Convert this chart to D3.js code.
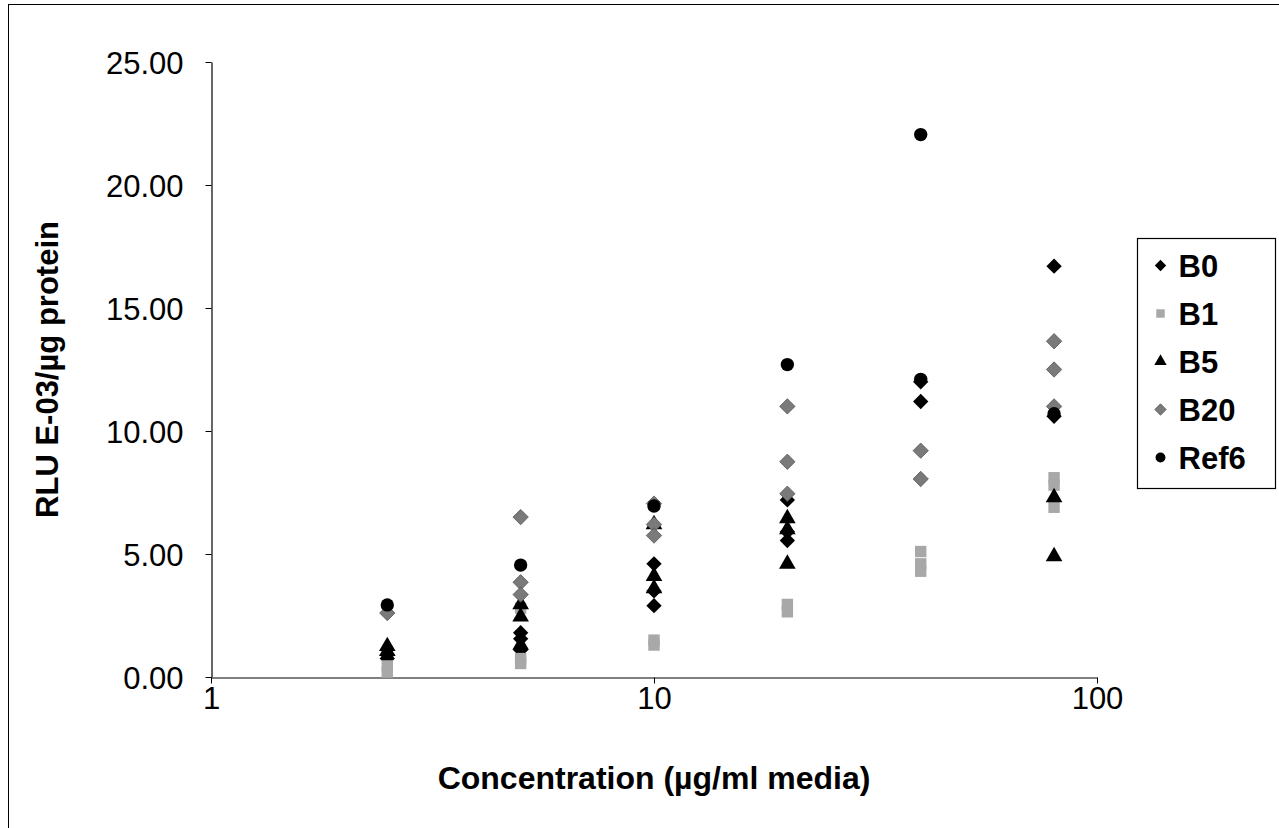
<!DOCTYPE html>
<html>
<head>
<meta charset="utf-8">
<script src="https://cdn.jsdelivr.net/npm/d3@7"></script>
<style>
  html, body { margin: 0; padding: 0; background: #fff; }
  svg { display: block; }
  text { font-family: "Liberation Sans", Arial, sans-serif; fill: #000; }
</style>
</head>
<body>
<svg id="chart" width="1279" height="828"></svg>
<script>
// ---------- data ----------
const seriesNames = ["B0", "B1", "B5", "B20", "Ref6"];
const yTickValues = [0, 5, 10, 15, 20, 25];
const xTickValues = [1, 10, 100];

// [concentration, RLU E-03/µg protein]
const b0Points = [
  [2.5, 0.9], [2.5, 0.75],
  [5, 1.8], [5, 1.55], [5, 1.1],
  [10, 4.6], [10, 3.5], [10, 2.9],
  [20, 7.2], [20, 5.9], [20, 5.55],
  [40, 12.0], [40, 11.2],
  [80, 16.7], [80, 10.6]
];
const b1Points = [
  [2.5, 0.45], [2.5, 0.2],
  [5, 2.8], [5, 0.75], [5, 0.55],
  [10, 1.5], [10, 1.3],
  [20, 2.95], [20, 2.65],
  [40, 5.1], [40, 4.6], [40, 4.3],
  [80, 8.1], [80, 7.8], [80, 6.9]
];
const b5Points = [
  [2.5, 1.25], [2.5, 1.05],
  [5, 2.95], [5, 2.45], [5, 1.3],
  [10, 6.2], [10, 4.1], [10, 3.6],
  [20, 6.45], [20, 6.0], [20, 4.6],
  [80, 7.3], [80, 4.9]
];
const b20Points = [
  [2.5, 2.6],
  [5, 6.5], [5, 3.85], [5, 3.35],
  [10, 7.05], [10, 6.2], [10, 5.75],
  [20, 11.0], [20, 8.75], [20, 7.45],
  [40, 9.2], [40, 8.05],
  [80, 13.65], [80, 12.5], [80, 11.0]
];
const ref6Points = [
  [2.5, 2.93],
  [5, 4.55],
  [10, 6.95],
  [20, 12.7],
  [40, 22.05], [40, 12.1],
  [80, 10.7]
];

const seriesData = [b0Points, b1Points, b5Points, b20Points, ref6Points];
const seriesSymbols = [d3.symbolDiamond2 || d3.symbolDiamond, d3.symbolSquare, d3.symbolTriangle, d3.symbolDiamond2 || d3.symbolDiamond, d3.symbolCircle];
const seriesColors = ["#000000", "#a8a8a8", "#000000", "#7a7a7a", "#000000"];
const seriesSizes = [150, 130, 120, 150, 140];

// ---------- layout ----------
const svg = d3.select("#chart");
const margin = { left: 211, right: 1097, top: 62, bottom: 677 };

const x = d3.scaleLog().domain([1, 100]).range([margin.left, margin.right]);
const y = d3.scaleLinear().domain([0, 25]).range([margin.bottom, margin.top]);

// outer chart border (left & top visible)
svg.append("line").attr("x1", 8.5).attr("x2", 8.5).attr("y1", 4).attr("y2", 828)
  .attr("stroke", "#000").attr("stroke-width", 1);
svg.append("line").attr("x1", 8).attr("x2", 1279).attr("y1", 4.5).attr("y2", 4.5)
  .attr("stroke", "#000").attr("stroke-width", 1);

// y axis
const yAxis = d3.axisLeft(y).tickValues(yTickValues).tickFormat(d3.format(".2f"))
  .tickSize(6).tickSizeOuter(0).tickPadding(22);
const gy = svg.append("g").attr("transform", `translate(${margin.left + 0.5},0)`).call(yAxis);
gy.selectAll("text").style("font-size", "31px").attr("dy", "0.36em");
gy.select(".domain").attr("stroke-width", 1.2);

// x axis
const xAxis = d3.axisBottom(x).tickValues(xTickValues).tickFormat(d3.format("d"))
  .tickSize(6).tickSizeOuter(0).tickPadding(3);
const gx = svg.append("g").attr("transform", `translate(0,${margin.bottom + 0.5})`).call(xAxis);
gx.selectAll("text").style("font-size", "31px");
gx.select(".domain").attr("stroke-width", 1.2);

// axis titles
svg.append("text")
  .attr("x", (margin.left + margin.right) / 2).attr("y", 789)
  .attr("text-anchor", "middle")
  .style("font-size", "32px").style("font-weight", "bold")
  .text("Concentration (µg/ml media)");

svg.append("text")
  .attr("transform", `translate(58,${(margin.top + margin.bottom) / 2}) rotate(-90)`)
  .attr("text-anchor", "middle")
  .style("font-size", "31px").style("font-weight", "bold")
  .text("RLU E-03/µg protein");

// points
seriesData.forEach((pts, i) => {
  const sym = d3.symbol().type(seriesSymbols[i]).size(seriesSizes[i]);
  svg.append("g").attr("class", "series-" + seriesNames[i])
    .selectAll("path").data(pts).enter().append("path")
    .attr("transform", d => `translate(${x(d[0])},${y(d[1])})`)
    .attr("d", sym)
    .attr("fill", seriesColors[i])
    .attr("stroke", i === 3 ? "#555" : "none")
    .attr("stroke-width", 0.8);
});

// legend
const legend = svg.append("g").attr("transform", "translate(1137.5,238.5)");
legend.append("rect").attr("width", 138).attr("height", 250)
  .attr("fill", "#fff").attr("stroke", "#000").attr("stroke-width", 1.2);
seriesNames.forEach((name, i) => {
  const cy = 27 + i * 48;
  const sym = d3.symbol().type(seriesSymbols[i]).size(seriesSizes[i] * 0.55);
  legend.append("path")
    .attr("transform", `translate(23,${cy})`)
    .attr("d", sym)
    .attr("fill", seriesColors[i])
    .attr("stroke", i === 3 ? "#555" : "none")
    .attr("stroke-width", 0.8);
  legend.append("text")
    .attr("x", 41).attr("y", cy).attr("dy", "0.36em")
    .style("font-size", "31px").style("font-weight", "bold")
    .text(name);
});
</script>
</body>
</html>
